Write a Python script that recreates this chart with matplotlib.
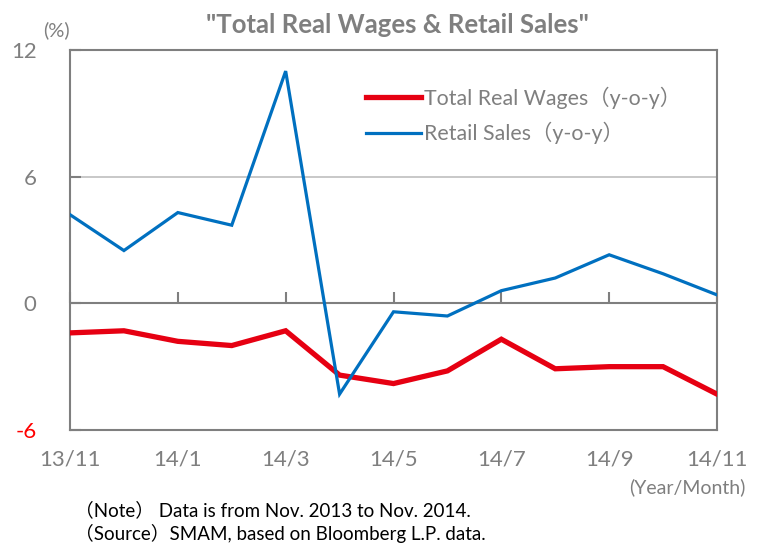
import matplotlib
matplotlib.use("Agg")
import matplotlib.pyplot as plt

months = ["13/11", "13/12", "14/1", "14/2", "14/3", "14/4", "14/5",
          "14/6", "14/7", "14/8", "14/9", "14/10", "14/11"]
real_wages = [-1.4, -1.3, -1.8, -2.0, -1.3, -3.4, -3.8, -3.2, -1.7, -3.1, -3.0, -3.0, -4.3]
retail_sales = [4.2, 2.5, 4.3, 3.7, 11.0, -4.3, -0.4, -0.6, 0.6, 1.2, 2.3, 1.4, 0.4]
y_ticks = [-6, 0, 6, 12]
x_label_months = ["13/11", "14/1", "14/3", "14/5", "14/7", "14/9", "14/11"]

FAM = ["Lato", "Noto Sans CJK JP", "DejaVu Sans"]
plt.rcParams["font.family"] = FAM
GRAY = "#7F7F7F"
TXT = "#7F7F7F"

fig = plt.figure(figsize=(7.57, 5.43), dpi=100)
ax = fig.add_axes([70/757, 1-430/543, (717-70)/757, (430-50)/543])

x = list(range(len(months)))
ax.axhline(6, color="#BFBFBF", lw=1.2, zorder=1)
ax.axhline(0, color=GRAY, lw=1.5, zorder=1)
# up-ticks on zero line
tick_idx = [months.index(m) for m in x_label_months]
ax.plot(tick_idx, [0]*len(tick_idx), ls="none", marker=2, ms=8, mew=1.5, color=GRAY, zorder=1, clip_on=False)

l1, = ax.plot(x, real_wages, color="#E60012", lw=3.8, solid_joinstyle="miter", zorder=3,
              label="Total Real Wages（y-o-y）")
l2, = ax.plot(x, retail_sales, color="#0070C0", lw=2.3, solid_joinstyle="miter", zorder=4,
              label="Retail Sales（y-o-y）")

ax.set_xlim(0, 12)
ax.set_ylim(-6, 12)
ax.set_yticks(y_ticks)
ax.set_yticklabels([str(v) for v in y_ticks])
ax.tick_params(axis="y", direction="in", length=8, width=1.5, color=GRAY, labelcolor=TXT,
               labelsize=16, pad=24)
for lab in ax.get_yticklabels():
    lab.set_horizontalalignment("right")
    if lab.get_text() == "-6":
        lab.set_color("#FF0000")
ax.set_xticks(tick_idx)
ax.set_xticklabels(x_label_months)
ax.tick_params(axis="x", length=0, labelcolor=TXT, labelsize=16, pad=14)

for s in ax.spines.values():
    s.set_color(GRAY)
    s.set_linewidth(1.5)

leg = ax.legend(handles=[l1, l2], loc="upper left", bbox_to_anchor=(0.427, 0.955),
                frameon=False, fontsize=15.4, handlelength=2.6, handletextpad=0.15,
                labelspacing=0.62, labelcolor=TXT)

fig.text(397/757, 1-25/543, "\"Total Real Wages & Retail Sales\"", ha="center", va="center",
         fontsize=18.5, fontweight="bold", color=TXT)
fig.text(56/757, 1-30/543, "(%)", ha="center", va="center", fontsize=14.5, color=TXT)
fig.text(745/757, 1-487/543, "(Year/Month)", ha="right", va="center", fontsize=14, color=TXT)
fig.text(75/757, 1-510/543, "（Note） Data is from Nov. 2013 to Nov. 2014.", ha="left", va="center",
         fontsize=13.5, color="black")
fig.text(75/757, 1-533/543, "（Source）SMAM, based on Bloomberg L.P. data.", ha="left", va="center",
         fontsize=13.5, color="black")

fig.savefig("out.png", dpi=100)
